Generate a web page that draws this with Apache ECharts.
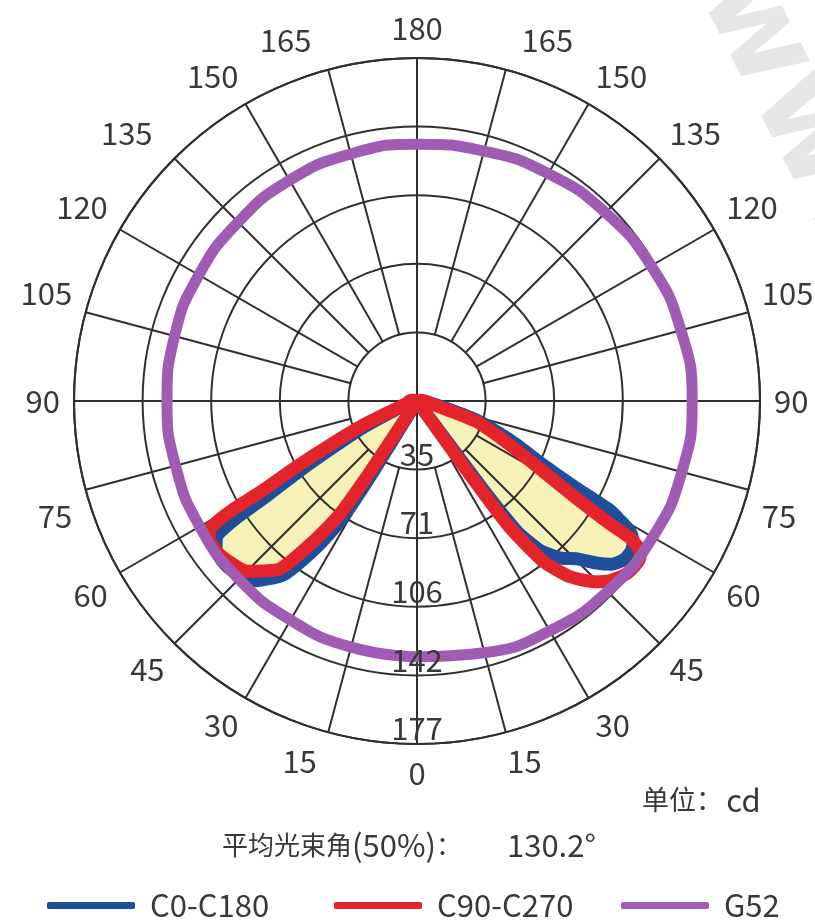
<!DOCTYPE html>
<html>
<head>
<meta charset="utf-8">
<script src="https://cdn.jsdelivr.net/npm/echarts/dist/echarts.min.js"></script>
<style>
html,body{margin:0;padding:0;background:#ffffff;}
#chart{width:815px;height:920px;}
</style>
</head>
<body>
<div id="chart"></div>
<script>
// ---------- data (angles measured from nadir, 0..180 on each side; intensity in cd) ----------
const radiusTicks = [35.4, 70.8, 106.2, 141.6, 177];
const radiusTickLabels = ['35', '71', '106', '142', '177'];
const angleStep = 15;

// C0-C180 (blue)
const c0RightDeg = [0, 35.5, 36.6, 36.8, 37.5, 39.5, 42.5, 45.4, 48, 50, 52.5, 55, 57, 58.5, 59.5, 60.5, 61.3, 63, 67, 72, 76, 82, 90, 180];
const c0RightCd  = [0, 0, 20, 60, 85, 100, 110, 116, 125, 131, 134.5, 135, 133, 129, 122, 114, 94, 74, 53, 33, 15, 6, 2, 0];
const c0LeftDeg  = [0, 30.5, 31.5, 31.7, 31.8, 32.5, 34.5, 37.5, 42.5, 49, 53.5, 55.8, 57, 57.7, 59.2, 61, 64, 67.5, 73, 83, 90, 180];
const c0LeftCd   = [0, 0, 7, 25, 48, 72, 92, 113, 126, 130, 129, 125, 112, 92, 71, 50, 30, 13, 5, 2, 1, 0];

// C90-C270 (red)
const c90RightDeg = [0, 34, 35.5, 35.8, 36.3, 38.2, 41, 44.6, 47, 50.3, 53, 55, 56.5, 57.3, 57.5, 58.6, 60.8, 64.7, 70.9, 74.5, 80, 90, 100, 180];
const c90RightCd  = [0, 0, 30, 53, 81, 105, 120, 131, 136, 140, 141, 140.5, 137, 130, 118, 96.5, 74.7, 53, 32.6, 14, 7, 4, 2, 0];
const c90LeftDeg  = [0, 32, 33.2, 33.4, 33.6, 34.3, 36.4, 39.3, 44.9, 52, 56.5, 58.4, 59.4, 59.9, 61.4, 63.2, 65.9, 69.2, 75, 90, 100, 180];
const c90LeftCd   = [0, 0, 7, 25, 48, 71, 90, 112, 124, 129, 128.5, 125, 112, 92, 71, 50, 30, 13, 6, 4, 2, 0];

// G52 (purple)
const g52Deg      = [0, 15, 30, 45, 60, 75, 90, 105, 120, 135, 150, 165, 180];
const g52RightCd  = [132, 134.5, 137, 139, 140.5, 141.5, 142, 141, 139.5, 137.5, 135.5, 133.5, 132.5];
const g52LeftCd   = [132, 131.5, 130.5, 130, 129.5, 129, 129, 129.5, 130, 130.5, 131.5, 132, 132.5];

const seriesNames = ['C0-C180', 'C90-C270', 'G52'];
const unitText = '单位：';
const unitValue = 'cd';
const beamLabel = '平均光束角';
const beamPct = '(50%)';
const beamValue = '130.2°';

// ---------- styling ----------
const FONT = '"Noto Sans CJK SC", "Noto Sans", sans-serif';
const TXT = '#383838';
const GRID = '#2f2f2f';
const BLUE = '#1f4f9b';
const RED = '#e3242b';
const PURPLE = '#a05cb2';
const FILL = '#f6f1b6';
const CENTER = [417, 401];
const R = 343;

// per-label nudges of the angle tick labels (padding in px), as in the original drawing
const labelPad = {
  15: [0, 0, 0, 30], 345: [0, 50, 0, 0],
  165: [0, 0, 0, 76], 195: [0, 78, 0, 0],
  105: [0, 0, 30, 0], 255: [0, 0, 30, 0],
  75: [46, 0, 0, 0], 285: [46, 0, 0, 0],
  225: [0, 12, 0, 0]
};
const richStyles = {};
Object.keys(labelPad).forEach(function (k) {
  richStyles['p' + k] = {padding: labelPad[k], fontSize: 31, fontFamily: FONT, color: TXT};
});

function loop(rDeg, rCd, lDeg, lCd) {
  const pts = [];
  for (let i = 0; i < rDeg.length; i++) pts.push([rCd[i], rDeg[i]]);
  for (let i = lDeg.length - 1; i >= 0; i--) pts.push([lCd[i], 360 - lDeg[i]]);
  return pts;
}
const c0Data = loop(c0RightDeg, c0RightCd, c0LeftDeg, c0LeftCd);
const c90Data = loop(c90RightDeg, c90RightCd, c90LeftDeg, c90LeftCd);
const g52Data = loop(g52Deg, g52RightCd, g52Deg, g52LeftCd);

const chart = echarts.init(document.getElementById('chart'), null, {renderer: 'canvas'});

const legendCommon = {
  orient: 'horizontal', top: 885, icon: 'roundRect', itemWidth: 88, itemHeight: 7,
  textStyle: {fontSize: 31, color: TXT, fontFamily: FONT, padding: [0, 0, 0, 10]}
};

const option = {
  animation: false,
  backgroundColor: '#ffffff',
  polar: [
    {center: CENTER, radius: R},
    {center: CENTER, radius: [R / 5, R]}
  ],
  angleAxis: [
    {
      polarIndex: 0, type: 'value', min: 0, max: 360, interval: 90,
      startAngle: 270, clockwise: false, z: 2,
      axisLine: {show: true, lineStyle: {color: GRID, width: 2}},
      axisTick: {show: false}, axisLabel: {show: false},
      splitLine: {show: true, lineStyle: {color: GRID, width: 2}}
    },
    {
      polarIndex: 1, type: 'value', min: 0, max: 360, interval: angleStep,
      startAngle: 270, clockwise: false, z: 2,
      axisLine: {show: false}, axisTick: {show: false},
      axisLabel: {
        show: true, margin: 14, fontSize: 31, color: TXT, fontFamily: FONT, rich: richStyles,
        formatter: function (v) {
          if (v >= 360) return '';
          const t = String(v <= 180 ? v : 360 - v);
          return labelPad[v] ? '{p' + v + '|' + t + '}' : t;
        }
      },
      splitLine: {show: true, lineStyle: {color: GRID, width: 2}}
    }
  ],
  radiusAxis: [
    {
      polarIndex: 0, type: 'value', min: 0, max: radiusTicks[radiusTicks.length - 1], interval: radiusTicks[0], z: 2,
      axisLine: {show: false}, axisTick: {show: false}, axisLabel: {show: false},
      splitLine: {show: true, lineStyle: {color: GRID, width: 2}}
    },
    {
      polarIndex: 1, type: 'value', min: 0, max: 1,
      axisLine: {show: false}, axisTick: {show: false}, axisLabel: {show: false}, splitLine: {show: false}
    }
  ],
  legend: [
    Object.assign({data: [seriesNames[0]], left: 42}, legendCommon),
    Object.assign({data: [seriesNames[1]], left: 329}, legendCommon),
    Object.assign({data: [seriesNames[2]], left: 616}, legendCommon)
  ],
  graphic: [
    {
      type: 'text', left: 672, top: -50, rotation: -1.1, z: -10, silent: true,
      style: {text: 'www', font: 'bold 125px "DejaVu Sans"', fill: '#e6e6e6'}
    },
    {
      type: 'text', x: 642, y: 800, z: 10,
      style: {
        text: '{c|' + unitText + '} {l|' + unitValue + '}', verticalAlign: 'middle',
        rich: {c: {fontSize: 27, fontFamily: FONT, fill: TXT}, l: {fontSize: 31, fontFamily: FONT, fill: TXT}}
      }
    },
    {
      type: 'text', x: 222, y: 845, z: 10,
      style: {
        text: '{c|' + beamLabel + '}{l|' + beamPct + '}{c|：}', verticalAlign: 'middle',
        rich: {c: {fontSize: 26, fontFamily: FONT, fill: TXT}, l: {fontSize: 31, fontFamily: FONT, fill: TXT}}
      }
    },
    {
      type: 'text', x: 507, y: 845, z: 10,
      style: {text: beamValue, verticalAlign: 'middle', fontSize: 31, fontFamily: FONT, fill: TXT}
    }
  ],
  series: [
    {
      name: 'fill', type: 'line', coordinateSystem: 'polar', polarIndex: 0,
      data: c0Data, symbol: 'none', smooth: 0.2, silent: true, z: 1,
      lineStyle: {opacity: 0}, areaStyle: {color: FILL, opacity: 1}
    },
    {
      name: seriesNames[0], type: 'line', coordinateSystem: 'polar', polarIndex: 0,
      data: c0Data, symbol: 'none', smooth: 0.2, z: 3,
      itemStyle: {color: BLUE}, lineStyle: {color: BLUE, width: 13, join: 'round', cap: 'round'}
    },
    {
      name: seriesNames[1], type: 'line', coordinateSystem: 'polar', polarIndex: 0,
      data: c90Data, symbol: 'none', smooth: 0.2, z: 4,
      itemStyle: {color: RED}, lineStyle: {color: RED, width: 13, join: 'round', cap: 'round'}
    },
    {
      name: seriesNames[2], type: 'line', coordinateSystem: 'polar', polarIndex: 0,
      data: g52Data, symbol: 'none', smooth: true, z: 5,
      itemStyle: {color: PURPLE}, lineStyle: {color: PURPLE, width: 11}
    },
    {
      name: 'rlabels', type: 'scatter', coordinateSystem: 'polar', polarIndex: 0, z: 8, silent: true,
      data: radiusTicks.map(function (v) { return [v, 0]; }),
      symbol: 'circle', symbolSize: 0, itemStyle: {color: TXT, opacity: 1},
      label: {
        show: true, position: 'top', distance: 0, fontSize: 31, color: TXT, opacity: 1,
        fontFamily: FONT, textBorderWidth: 0,
        formatter: function (p) { return radiusTickLabels[p.dataIndex]; }
      }
    }
  ]
};
chart.setOption(option);
</script>
</body>
</html>
